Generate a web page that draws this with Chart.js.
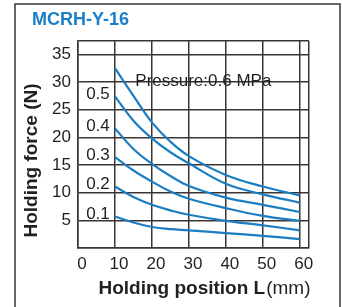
<!DOCTYPE html>
<html>
<head>
<meta charset="utf-8">
<script src="https://cdn.jsdelivr.net/npm/chart.js@4.4.1/dist/chart.umd.min.js"></script>
<style>
  html, body { margin: 0; padding: 0; background: #fff; }
  #wrap { width: 342px; height: 307px; }
</style>
</head>
<body>
<div id="wrap"><canvas id="chart" width="342" height="307"></canvas></div>
<script>
// Holding position L (mm)
const positions = [10, 15, 20, 25, 30, 40, 50, 60];

// Holding force (N) per pressure (MPa)
const pressures = ['0.6', '0.5', '0.4', '0.3', '0.2', '0.1'];
const force06 = [32.5, 27.5, 22.7, 19.2, 16.6, 13.2, 11.1, 9.5];
const force05 = [27.4, 23.0, 19.8, 17.3, 15.3, 11.6, 9.7, 8.2];
const force04 = [21.6, 17.9, 15.2, 13.0, 11.2, 9.1, 7.8, 6.5];
const force03 = [16.4, 14.0, 12.0, 10.2, 8.9, 7.2, 5.8, 4.9];
const force02 = [11.1, 9.2, 7.8, 6.8, 6.0, 4.9, 4.1, 3.2];
const force01 = [5.7, 4.6, 3.8, 3.4, 3.2, 2.7, 2.2, 1.6];
const forces = [force06, force05, force04, force03, force02, force01];

const xTicks = [0, 10, 20, 30, 40, 50, 60];
const yTicks = [5, 10, 15, 20, 25, 30, 35];
const xMax = 62.5;
const yMax = 37.4;

const title = 'MCRH-Y-16';
const pressureNote = 'Pressure:0.6 MPa';

const blue = '#1b7dc2';
const gridColor = '#3a3435';
const textColor = '#231f20';
const fontFamily = "'Liberation Sans', Arial, sans-serif";

const decor = {
    id: 'decor',
    beforeDraw(chart) {
        const ctx = chart.ctx;
        ctx.save();
        ctx.fillStyle = '#fff';
        ctx.fillRect(0, 0, chart.width, chart.height);
        // outer frame (open at the bottom)
        ctx.strokeStyle = gridColor;
        ctx.lineWidth = 1.5;
        ctx.beginPath();
        ctx.moveTo(15, chart.height);
        ctx.lineTo(15, 4);
        ctx.lineTo(340, 4);
        ctx.lineTo(340, chart.height);
        ctx.stroke();
        ctx.restore();
    },
    afterDraw(chart) {
        const ctx = chart.ctx;
        const xs = chart.scales.x;
        const ys = chart.scales.y;
        const area = chart.chartArea;
        ctx.save();

        // title
        ctx.fillStyle = '#1a7fc6';
        ctx.font = 'bold 18px ' + fontFamily;
        ctx.textBaseline = 'middle';
        ctx.textAlign = 'left';
        ctx.fillText(title, 32, 20);

        // y axis title
        ctx.fillStyle = textColor;
        ctx.save();
        ctx.translate(32, (area.top + area.bottom) / 2 + 16);
        ctx.rotate(-Math.PI / 2);
        ctx.textAlign = 'center';
        ctx.font = 'bold 19px ' + fontFamily;
        ctx.fillText('Holding force (N)', 0, 0);
        ctx.restore();

        // x axis title: bold part + regular unit
        const boldPart = 'Holding position L';
        const unitPart = '(mm)';
        ctx.font = 'bold 19px ' + fontFamily;
        const w1 = ctx.measureText(boldPart).width;
        ctx.font = '19px ' + fontFamily;
        const w2 = ctx.measureText(unitPart).width;
        const startX = 204 - (w1 + w2) / 2;
        ctx.textAlign = 'left';
        ctx.font = 'bold 19px ' + fontFamily;
        ctx.fillText(boldPart, startX, 289);
        ctx.font = '19px ' + fontFamily;
        ctx.fillText(unitPart, startX + w1 + 1, 289);

        // pressure labels next to curve starts
        ctx.font = '17px ' + fontFamily;
        ctx.textAlign = 'center';
        pressures.forEach((p, i) => {
            if (i === 0) return;
            const y = ys.getPixelForValue(forces[i][0]) - 2;
            ctx.fillText(p, xs.getPixelForValue(5.4), y);
        });

        // note for the top curve
        ctx.textAlign = 'left';
        ctx.fillText(pressureNote, xs.getPixelForValue(15.5), ys.getPixelForValue(30.2));
        ctx.restore();
    }
};

const ctx = document.getElementById('chart').getContext('2d');
new Chart(ctx, {
    type: 'line',
    data: {
        datasets: forces.map((series, i) => ({
            label: pressures[i],
            data: series.map((v, j) => ({ x: positions[j], y: v })),
            borderColor: blue,
            borderWidth: 2.2,
            pointRadius: 0,
            fill: false,
            tension: 0.4
        }))
    },
    options: {
        responsive: false,
        animation: false,
        layout: { padding: { top: 41, right: 33, left: 0, bottom: 0 } },
        plugins: {
            legend: { display: false },
            tooltip: { enabled: false }
        },
        scales: {
            x: {
                type: 'linear',
                min: 0,
                max: xMax,
                afterBuildTicks: s => { s.ticks = xTicks.concat([xMax]).map(v => ({ value: v })); },
                afterFit: s => { s.height = 59; },
                grid: { color: gridColor, lineWidth: 1.5, drawTicks: false },
                border: { color: gridColor, width: 1.5 },
                ticks: {
                    color: textColor,
                    font: { family: fontFamily, size: 17 },
                    padding: 6,
                    labelOffset: 4,
                    maxRotation: 0,
                    autoSkip: false,
                    callback: v => xTicks.includes(v) ? v : ''
                }
            },
            y: {
                min: 0,
                max: yMax,
                afterBuildTicks: s => { s.ticks = [0].concat(yTicks, [yMax]).map(v => ({ value: v })); },
                afterFit: s => { s.width = 78; },
                grid: { color: gridColor, lineWidth: 1.5, drawTicks: false },
                border: { color: gridColor, width: 1.5 },
                ticks: {
                    color: textColor,
                    font: { family: fontFamily, size: 17 },
                    padding: 7,
                    autoSkip: false,
                    callback: v => yTicks.includes(v) ? v : ''
                }
            }
        }
    },
    plugins: [decor]
});
</script>
</body>
</html>
